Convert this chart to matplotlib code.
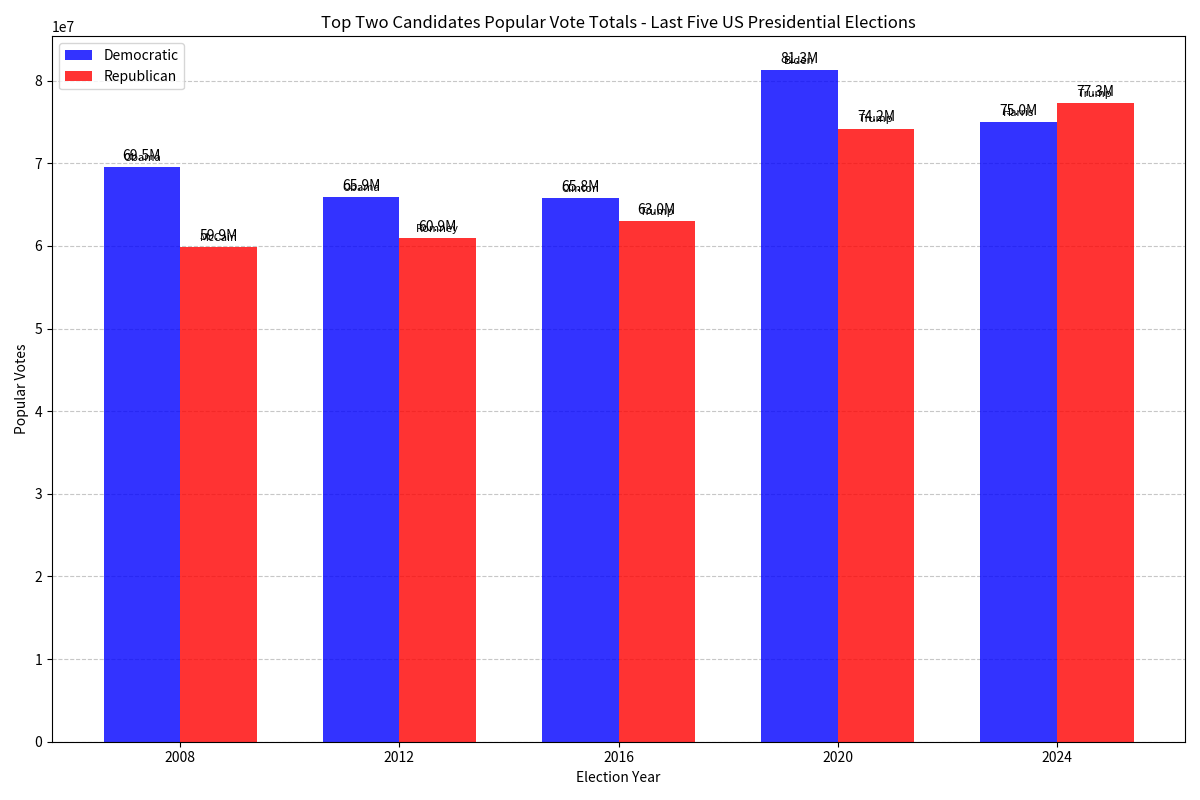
import matplotlib
matplotlib.use("Agg")
import matplotlib.pyplot as plt
import numpy as np

plt.rcParams['font.family'] = ['Noto Sans CJK SC', 'DejaVu Sans']

years = ['2008', '2012', '2016', '2020', '2024']
dem_votes = [69.5e6, 65.9e6, 65.8e6, 81.3e6, 75.0e6]
rep_votes = [59.9e6, 60.9e6, 63.0e6, 74.2e6, 77.3e6]
dem_names = ['Obama', 'Obama', 'Clinton', 'Biden', 'Harris']
rep_names = ['McCain', 'Romney', 'Trump', 'Trump', 'Trump']

x = np.arange(len(years))
width = 0.35

fig, ax = plt.subplots(figsize=(12, 8), dpi=100)
bars_d = ax.bar(x - width / 2, dem_votes, width, label='Democratic', color='blue', alpha=0.8)
bars_r = ax.bar(x + width / 2, rep_votes, width, label='Republican', color='red', alpha=0.8)

# value + candidate name on top of each bar (they overlap, as in the original)
for bars, names in [(bars_d, dem_names), (bars_r, rep_names)]:
    for bar, name in zip(bars, names):
        h = bar.get_height()
        cx = bar.get_x() + bar.get_width() / 2
        ax.annotate(f'{h / 1e6:.1f}M', xy=(cx, h), xytext=(0, 3),
                    textcoords='offset points', ha='center', va='bottom', fontsize=10)
        ax.annotate(name, xy=(cx, h), xytext=(0, 3),
                    textcoords='offset points', ha='center', va='bottom', fontsize=8)

ax.set_title('Top Two Candidates Popular Vote Totals - Last Five US Presidential Elections', fontsize=12)
ax.set_xlabel('Election Year')
ax.set_ylabel('Popular Votes')
ax.set_xticks(x)
ax.set_xticklabels(years)
ax.legend(loc='upper left')
ax.yaxis.grid(True, linestyle='--', alpha=0.7)
ax.set_axisbelow(True)

plt.tight_layout()
plt.savefig('out.png')
